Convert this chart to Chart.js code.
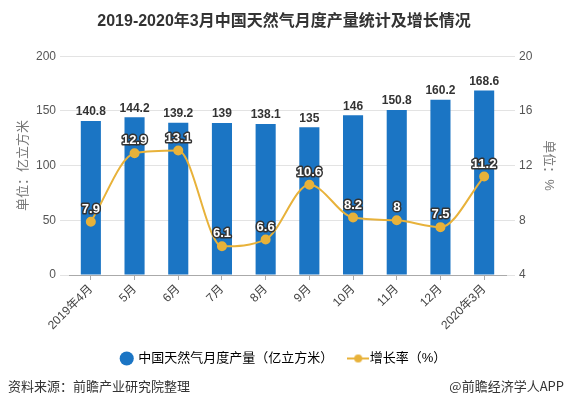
<!DOCTYPE html>
<html>
<head>
<meta charset="utf-8">
<script src="https://cdn.jsdelivr.net/npm/chart.js@4/dist/chart.umd.min.js"></script>
<style>
  html, body { margin: 0; padding: 0; background: #fff; }
  .wrap { position: relative; width: 568px; height: 410px; }
  .foot { position: absolute; top: 376px; font: 13px "Noto Sans CJK SC", sans-serif; color: #333; }
  .foot.left { left: 8px; }
  .foot.right { right: 4px; }
</style>
</head>
<body>
<div class="wrap">
  <canvas id="chart" width="568" height="410"></canvas>
  <div class="foot left">资料来源：前瞻产业研究院整理</div>
  <div class="foot right">@前瞻经济学人APP</div>
</div>
<script>
const months = ["2019年4月", "5月", "6月", "7月", "8月", "9月", "10月", "11月", "12月", "2020年3月"];
const output = [140.8, 144.2, 139.2, 139, 138.1, 135, 146, 150.8, 160.2, 168.6];
const growth = [7.9, 12.9, 13.1, 6.1, 6.6, 10.6, 8.2, 8, 7.5, 11.2];
const leftTicks = [0, 50, 100, 150, 200];
const rightTicks = [4, 8, 12, 16, 20];

const FONT = '"Liberation Sans", "Noto Sans CJK SC", sans-serif';
const BLUE = "#1b75c4";
const ORANGE = "#e8b23a";

// little legend icon for the line series: line with dot
const lineIcon = document.createElement("canvas");
lineIcon.width = 22; lineIcon.height = 10;
(function () {
    const c = lineIcon.getContext("2d");
    c.strokeStyle = ORANGE; c.lineWidth = 2;
    c.beginPath(); c.moveTo(0, 5); c.lineTo(22, 5); c.stroke();
    c.fillStyle = ORANGE;
    c.beginPath(); c.arc(11, 5, 4, 0, Math.PI * 2); c.fill();
})();

const valueLabels = {
    id: "valueLabels",
    afterDatasetsDraw(chart) {
        const ctx = chart.ctx;
        ctx.save();
        ctx.textAlign = "center";
        ctx.textBaseline = "bottom";
        chart.getDatasetMeta(0).data.forEach((bar, i) => {
            ctx.font = "bold 12px " + FONT;
            ctx.fillStyle = "#333";
            ctx.fillText(output[i], bar.x, bar.y - 3);
        });
        chart.getDatasetMeta(1).data.forEach((pt, i) => {
            ctx.font = "bold 13px " + FONT;
            ctx.lineWidth = 3;
            ctx.strokeStyle = "#333";
            ctx.lineJoin = "round";
            ctx.strokeText(growth[i], pt.x, pt.y - 6);
            ctx.fillStyle = "#fff";
            ctx.fillText(growth[i], pt.x, pt.y - 6);
        });

        // right axis title, reading top to bottom
        const area = chart.chartArea;
        ctx.translate(549, (area.top + area.bottom) / 2);
        ctx.rotate(Math.PI / 2);
        ctx.textBaseline = "middle";
        ctx.font = "13px " + FONT;
        ctx.fillStyle = "#777";
        ctx.fillText("单位：%", 0, 0);
        ctx.restore();
    }
};

new Chart(document.getElementById("chart"), {
    data: {
        labels: months,
        datasets: [
            {
                type: "bar",
                label: "中国天然气月度产量（亿立方米）",
                data: output,
                backgroundColor: BLUE,
                yAxisID: "y",
                barPercentage: 0.46,
                categoryPercentage: 1,
                order: 2
            },
            {
                type: "line",
                label: "增长率（%）",
                data: growth,
                borderColor: ORANGE,
                backgroundColor: ORANGE,
                borderWidth: 2,
                pointRadius: 4,
                pointBackgroundColor: ORANGE,
                pointBorderColor: ORANGE,
                cubicInterpolationMode: "monotone",
                yAxisID: "y1",
                order: 1
            }
        ]
    },
    options: {
        responsive: false,
        animation: false,
        layout: { padding: { bottom: 35 } },
        plugins: {
            title: {
                display: true,
                text: "2019-2020年3月中国天然气月度产量统计及增长情况",
                font: { family: FONT, size: 16, weight: "bold" },
                color: "#333",
                padding: { top: 12, bottom: 25 }
            },
            legend: {
                position: "bottom",
                labels: {
                    usePointStyle: true,
                    boxWidth: 10,
                    boxHeight: 10,
                    padding: 20,
                    color: "#333",
                    font: { family: FONT, size: 13 },
                    generateLabels(chart) {
                        return chart.data.datasets.map((ds, i) => ({
                            text: ds.label,
                            fillStyle: i === 0 ? BLUE : ORANGE,
                            strokeStyle: i === 0 ? BLUE : ORANGE,
                            lineWidth: 0,
                            pointStyle: i === 0 ? "circle" : lineIcon,
                            datasetIndex: i,
                            hidden: false
                        }));
                    }
                }
            },
            tooltip: { enabled: false }
        },
        scales: {
            x: {
                offset: true,
                grid: { display: true, drawOnChartArea: false, tickLength: 5, color: "#aaa", offset: false },
                border: { color: "#aaa" },
                ticks: { color: "#444", font: { family: FONT, size: 12 }, maxRotation: 45, minRotation: 45, padding: 2 },
                afterFit(scale) { scale.height = 57; }
            },
            y: {
                position: "left",
                min: 0, max: 200,
                afterBuildTicks(scale) { scale.ticks = leftTicks.map(v => ({ value: v })); },
                grid: { color: "#e3e3e3", tickLength: 9 },
                border: { display: false },
                ticks: { color: "#555", font: { family: FONT, size: 12 }, padding: 4 },
                title: { display: true, text: "单位：亿立方米", color: "#777", font: { family: FONT, size: 13 }, padding: { top: 16, bottom: 0 } },
                afterFit(scale) { scale.width = 69; }
            },
            y1: {
                position: "right",
                min: 4, max: 20,
                afterBuildTicks(scale) { scale.ticks = rightTicks.map(v => ({ value: v })); },
                grid: { drawOnChartArea: false, color: "#e3e3e3", tickLength: 9 },
                border: { display: false },
                ticks: { color: "#555", font: { family: FONT, size: 12 }, padding: 4 },
                afterFit(scale) { scale.width = 62; }
            }
        }
    },
    plugins: [valueLabels]
});
</script>
</body>
</html>
